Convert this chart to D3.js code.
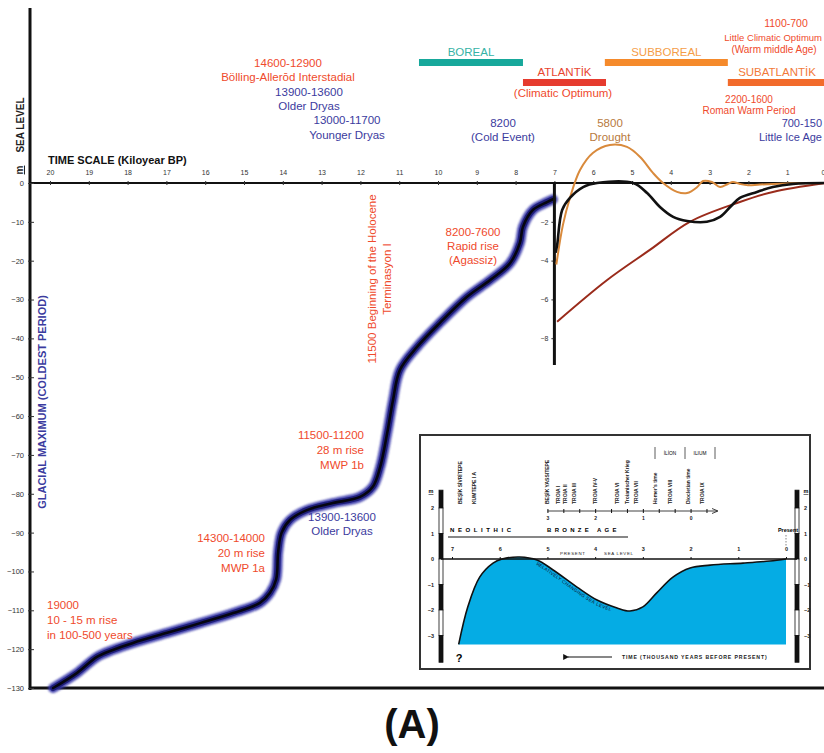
<!DOCTYPE html>
<html><head><meta charset="utf-8">
<script src="https://cdn.jsdelivr.net/npm/d3@7"></script>
<style>
body{margin:0;background:#fff}
svg{display:block;font-family:"Liberation Sans",Arial,sans-serif}
</style></head><body>
<svg id="chart" width="824" height="753"></svg>
<script>
// ---- Data -------------------------------------------------------------
// Post-glacial sea-level rise: time (kyr BP) and level (m)
const riseTime  = [19.92,19.30,18.79,18.38,17.86,16.98,16.13,15.28,14.59,14.33,14.17,14.12,14.03,13.81,13.38,12.71,12.01,11.68,11.49,11.31,11.16,10.98,10.54,9.95,9.25,8.66,8.14,7.89,7.81,7.55,7.19,7.04];
const riseLevel = [-130,-126.1,-122.0,-120.2,-118.4,-115.8,-113.3,-110.7,-108.1,-105.5,-102,-95,-90,-86.7,-84.2,-82.4,-80.8,-78.2,-73.1,-64.4,-55.9,-48.1,-42.2,-36.0,-29.3,-25.0,-20.6,-15.4,-11.3,-6.9,-4.9,-4.2];

// Holocene detail (last 7 kyr), three reconstructions
const holoBlackTime  = [6.97,6.93,6.80,6.60,6.26,5.90,4.97,4.61,4.28,3.94,3.58,3.07,2.73,2.47,2.22,1.78,1.37,0.85,0];
const holoBlackLevel = [-3.6,-3.2,-1.39,-0.77,-0.21,0,0,-0.52,-1.24,-1.75,-1.96,-2.0,-1.75,-1.24,-0.77,-0.46,-0.21,-0.05,0];
const holoOrangeTime  = [6.95,6.78,6.60,6.34,6.01,5.57,5.13,4.79,4.46,4.20,3.84,3.58,3.32,3.17,2.94,2.73,2.53,2.40,2.22,2.01,1.70,1.0,0];
const holoOrangeLevel = [-4.2,-2.16,-0.77,0.67,1.55,1.96,1.86,1.34,0.52,0,-0.46,-0.52,-0.21,0.1,0.05,-0.21,-0.05,0.05,-0.05,-0.12,-0.08,-0.03,0];
const holoRedTime  = [6.93,5.64,4.54,3.51,2.22,1.37,0];
const holoRedLevel = [-7.15,-5.0,-3.45,-2.0,-0.98,-0.46,0];

// Aegean (Troad) relative sea level, 7 kyr BP to present
const aegeanTime  = [6.86,6.67,6.42,6.14,5.95,5.58,5.22,4.88,4.38,3.96,3.54,3.27,3.00,2.71,2.37,2.01,1.59,0.90,0.34,0];
const aegeanLevel = [-3.35,-1.88,-0.71,-0.16,0,0.08,-0.04,-0.43,-1.10,-1.61,-1.92,-2.04,-1.88,-1.33,-0.71,-0.35,-0.24,-0.16,-0.08,0];

// Climatic periods (kyr BP)
const periodNames = ["BOREAL","ATLANTİK","SUBBOREAL","SUBATLANTİK"];
const periodStart = [10.49,7.81,5.70,2.53];
const periodEnd   = [7.81,5.67,2.53,0];

// Tick labels
const timeTicks  = d3.range(20,-1,-1);
const depthTicks = d3.range(0,-131,-10);
const holoTicks  = [-2,-4,-6,-8];
const insetTimeTicks  = [7,6,5,4,3,2,1,0];
const insetLevelTicks = [2,1,0,-1,-2,-3];

// Settlement phases shown above the inset
const sites = ["BEŞİK SİVRİTEPE","KUMTEPE I A","BEŞİK YASSITEPE","TROIA I","TROIA II","TROIA III","TROIA IV-V","TROIA VI","Troianischer Krieg","TROIA VII","Homer's time","TROIA VIII","Diocletian time","TROIA IX"];

// ---- Drawing ------------------------------------------------------------
const svg = d3.select("#chart");
const RED = "#ef4a2c", BLUE = "#3b3b9e";
const intFmt = d3.format("d");

const x = d3.scaleLinear().domain([20,0]).range([50,826]);
const y = d3.scaleLinear().domain([0,-130]).range([183,688]);
const ySub = d3.scaleLinear().domain([0,-8]).range([183,338.2]);
const xi = d3.scaleLinear().domain([7,0]).range([452,786]);
const yi = d3.scaleLinear().domain([0,-3]).range([559,635.5]);

const defs = svg.append("defs");
defs.append("filter").attr("id","soft").attr("x","-5%").attr("y","-5%").attr("width","110%").attr("height","110%")
  .append("feGaussianBlur").attr("stdDeviation",1.3);
defs.append("marker").attr("id","arrowL").attr("viewBox","0 0 10 10").attr("refX",2).attr("refY",5)
  .attr("markerWidth",5).attr("markerHeight",5).attr("orient","auto")
  .append("path").attr("d","M10,0 L0,5 L10,10 z").attr("fill","#111");

// frame lines
svg.append("line").attr("x1",30).attr("x2",30).attr("y1",8).attr("y2",690).attr("stroke","#111").attr("stroke-width",3);
svg.append("line").attr("x1",30).attr("x2",824).attr("y1",688).attr("y2",688).attr("stroke","#111").attr("stroke-width",3);
svg.append("line").attr("x1",30).attr("x2",824).attr("y1",y(0)).attr("y2",y(0)).attr("stroke","#111").attr("stroke-width",2);

// time axis
const gx = svg.append("g").attr("transform",`translate(0,${y(0)})`)
  .call(d3.axisTop(x).tickValues(timeTicks).tickSize(3).tickPadding(5).tickFormat(intFmt));
gx.select(".domain").remove();
gx.selectAll("line").attr("y1",2).attr("y2",-2).attr("stroke","#333");
gx.selectAll("text").attr("font-size",7).attr("fill","#333").attr("font-family","Liberation Sans, Arial");
gx.selectAll(".tick").filter(d=>d===0).select("text").attr("text-anchor","end").attr("x",-1);

// depth axis
const gy = svg.append("g").attr("transform","translate(31,0)")
  .call(d3.axisLeft(y).tickValues(depthTicks).tickSize(3).tickPadding(4).tickFormat(intFmt));
gy.select(".domain").remove();
gy.selectAll("line").attr("x1",-3).attr("x2",3).attr("stroke","#333");
gy.selectAll("text").attr("font-size",7.5).attr("fill","#333").attr("font-family","Liberation Sans, Arial");

svg.append("text").attr("x",48).attr("y",164).attr("font-size",11).attr("font-weight","bold").attr("fill","#111")
  .text("TIME SCALE (Kiloyear BP)");
svg.append("text").attr("transform","translate(24,125) rotate(-90)").attr("text-anchor","middle")
  .attr("font-size",10).attr("font-weight","bold").attr("fill","#222").text("SEA LEVEL");
svg.append("text").attr("transform","translate(23,170) rotate(-90)").attr("text-anchor","middle")
  .attr("font-size",10).attr("font-weight","bold").attr("fill","#222").attr("text-decoration","underline").text("m");
svg.append("text").attr("transform","translate(46,402) rotate(-90)").attr("text-anchor","middle")
  .attr("font-size",11).attr("font-weight","bold").attr("fill",BLUE).text("GLACIAL MAXIMUM (COLDEST PERIOD)");

// main sea-level curve
const risePts = riseTime.map((t,i)=>[t,riseLevel[i]]);
const riseLine = d3.line().x(d=>x(d[0])).y(d=>y(d[1])).curve(d3.curveCatmullRom.alpha(0.5));
svg.append("path").attr("d",riseLine(risePts)).attr("fill","none").attr("stroke","#3535a8")
  .attr("stroke-width",10).attr("stroke-linecap","round").attr("filter","url(#soft)").attr("opacity",0.9);
svg.append("path").attr("d",riseLine(risePts)).attr("fill","none").attr("stroke","#1e1e78")
  .attr("stroke-width",6).attr("stroke-linecap","round");
svg.append("path").attr("d",riseLine(risePts)).attr("fill","none").attr("stroke","#050510")
  .attr("stroke-width",2.6).attr("stroke-linecap","round");

// Holocene detail axis
svg.append("line").attr("x1",x(7)).attr("x2",x(7)).attr("y1",y(0)-1).attr("y2",365).attr("stroke","#111").attr("stroke-width",3);
const gs = svg.append("g").attr("transform",`translate(${x(7)-1},0)`)
  .call(d3.axisLeft(ySub).tickValues(holoTicks).tickSize(2).tickPadding(3).tickFormat(intFmt));
gs.select(".domain").remove();
gs.selectAll("line").attr("stroke","#333");
gs.selectAll("text").attr("font-size",7).attr("fill","#333").attr("font-family","Liberation Sans, Arial");

const holoLine = d3.line().x(d=>x(d[0])).y(d=>ySub(d[1])).curve(d3.curveCatmullRom.alpha(0.5));
svg.append("path").attr("d",holoLine(holoRedTime.map((t,i)=>[t,holoRedLevel[i]])))
  .attr("fill","none").attr("stroke","#9a2b1b").attr("stroke-width",2);
svg.append("path").attr("d",holoLine(holoOrangeTime.map((t,i)=>[t,holoOrangeLevel[i]])))
  .attr("fill","none").attr("stroke","#d98a3c").attr("stroke-width",2);
svg.append("path").attr("d",holoLine(holoBlackTime.map((t,i)=>[t,holoBlackLevel[i]])))
  .attr("fill","none").attr("stroke","#111").attr("stroke-width",2.6);

// climatic period bars
const periodRow = [0,1,0,1];
const periodFill = ["#17a89b","#e63b2e","#f58a2b","#f26b2b"];
const periodText = ["#35b3a6","#e8452f","#f59d48","#f27a3a"];
periodNames.forEach((nm,i)=>{
  const y0 = periodRow[i] ? 79 : 59;
  svg.append("rect").attr("x",x(periodStart[i])).attr("y",y0)
    .attr("width",x(periodEnd[i])-x(periodStart[i])).attr("height",7).attr("fill",periodFill[i]);
  const cx = i===3 ? 777 : (x(periodStart[i])+x(periodEnd[i]))/2;
  svg.append("text").attr("x",cx).attr("y",y0-3).attr("text-anchor","middle")
    .attr("font-size",11.5).attr("fill",periodText[i]).text(nm);
});

// annotations
function note(px,py,lines,color,size,anchor,lh){
  const t = svg.append("text").attr("x",px).attr("y",py).attr("font-size",size)
    .attr("fill",color).attr("text-anchor",anchor||"middle");
  lines.forEach((s,i)=>t.append("tspan").attr("x",px).attr("dy",i?(lh||size*1.25):0).text(s));
  return t;
}
note(288,67,["14600-12900","Bölling-Allerōd Interstadial"],RED,11.5,"middle",14);
note(309,96,["13900-13600","Older Dryas"],BLUE,11.5,"middle",14);
note(347,124,["13000-11700","Younger Dryas"],BLUE,11.5,"middle",14.5);
note(563,97,["(Climatic Optimum)"],RED,11.5,"middle");
note(786,27,["1100-700"],RED,10.5,"middle");
note(822,41,["Little  Climatic Optimum"],RED,9.5,"end");
note(774,53,["(Warm middle Age)"],RED,10,"middle");
note(749,103,["2200-1600","Roman Warm Period"],RED,10,"middle",11);
note(503,127,["8200","(Cold Event)"],BLUE,11.5,"middle",14);
note(610,127,["5800","Drought"],"#b87a40",11.5,"middle",14);
note(822,127,["700-150"],BLUE,11,"end");
note(822,141,["Little  Ice Age"],BLUE,11,"end");
note(473,236,["8200-7600","Rapid rise","(Agassiz)"],RED,11.5,"middle",14);
note(364,439,["11500-11200","28 m rise","MWP 1b"],RED,11.5,"end",15);
note(342,521,["13900-13600","Older Dryas"],BLUE,11.5,"middle",14);
note(265,542,["14300-14000","20 m rise","MWP 1a"],RED,11.5,"end",15);
note(47,609,["19000","10 - 15 m rise","in 100-500 years"],RED,11.5,"start",15);
svg.append("text").attr("transform","translate(376,279) rotate(-90)").attr("text-anchor","middle")
  .attr("font-size",11.5).attr("fill",RED)
  .call(t=>{
    t.append("tspan").attr("x",0).attr("dy",0).text("11500 Beginning of the Holocene");
    t.append("tspan").attr("x",0).attr("dy",15).text("Terminasyon I");
  });

svg.append("text").attr("x",412).attr("y",738).attr("text-anchor","middle")
  .attr("font-size",40).attr("font-weight","bold").attr("fill","#111").text("(A)");

// ---- Aegean inset -------------------------------------------------------
const inset = svg.append("g");
inset.append("rect").attr("x",420).attr("y",435).attr("width",390).attr("height",234)
  .attr("fill","#fff").attr("stroke","#333").attr("stroke-width",2);

// graduated bars at both sides
const barSegs = [[2.7,2,1],[2,1,0],[1,0,1],[0,-1,0],[-1,-2,1],[-2,-3,0],[-3,-4.05,1]];
[439,795].forEach(bx=>{
  barSegs.forEach(s=>{
    inset.append("rect").attr("x",bx).attr("y",yi(s[0])).attr("width",4).attr("height",yi(s[1])-yi(s[0]))
      .attr("fill",s[2]?"#111":"#fff").attr("stroke","#111").attr("stroke-width",0.8);
  });
});
const gil = inset.append("g").attr("transform","translate(437,0)")
  .call(d3.axisLeft(yi).tickValues(insetLevelTicks).tickSize(0).tickPadding(3).tickFormat(intFmt));
gil.select(".domain").remove();
gil.selectAll("text").attr("font-size",5.5).attr("font-weight","bold").attr("fill","#222");
const gir = inset.append("g").attr("transform","translate(801,0)")
  .call(d3.axisRight(yi).tickValues(insetLevelTicks).tickSize(0).tickPadding(3).tickFormat(intFmt));
gir.select(".domain").remove();
gir.selectAll("text").attr("font-size",5.5).attr("font-weight","bold").attr("fill","#222");
inset.append("text").attr("x",431).attr("y",493).attr("font-size",5.5).attr("font-weight","bold").attr("text-anchor","middle").attr("text-decoration","underline").text("m");
inset.append("text").attr("x",806).attr("y",493).attr("font-size",5.5).attr("font-weight","bold").attr("text-anchor","middle").attr("text-decoration","underline").text("m");

// blue area
const aegeanPts = aegeanTime.map((t,i)=>[t,aegeanLevel[i]]);
const cr = d3.curveCatmullRom.alpha(0.5);
inset.append("path").attr("d",d3.area().x(d=>xi(d[0])).y0(yi(-3.35)).y1(d=>yi(d[1])).curve(cr)(aegeanPts))
  .attr("fill","#05ace4");
inset.append("path").attr("id","aegeanCurve").attr("d",d3.line().x(d=>xi(d[0])).y(d=>yi(d[1])).curve(cr)(aegeanPts))
  .attr("fill","none").attr("stroke","#111").attr("stroke-width",1.6);
inset.append("text").attr("font-size",4.6).attr("fill","#113").attr("dy",5).attr("letter-spacing",0.3)
  .append("textPath").attr("href","#aegeanCurve").attr("startOffset","33%").text("RELATIVELY CHANGING SEA LEVEL");

// inset time axis
inset.append("line").attr("x1",441).attr("x2",797).attr("y1",yi(0)).attr("y2",yi(0)).attr("stroke","#111").attr("stroke-width",1.5);
const git = inset.append("g").attr("transform",`translate(0,${yi(0)})`)
  .call(d3.axisTop(xi).tickValues(insetTimeTicks).tickSize(2).tickPadding(6).tickFormat(intFmt));
git.select(".domain").remove();
git.selectAll("line").attr("stroke","#111");
git.selectAll("text").attr("font-size",5.5).attr("font-weight","bold").attr("fill","#222");
inset.append("text").attr("x",560).attr("y",555).attr("font-size",4.4).attr("letter-spacing",0.7).attr("fill","#222").text("PRESENT");
inset.append("text").attr("x",604).attr("y",555).attr("font-size",4.4).attr("letter-spacing",0.7).attr("fill","#222").text("SEA   LEVEL");

// cultural periods
inset.append("text").attr("x",450).attr("y",532).attr("font-size",6).attr("font-weight","bold").attr("letter-spacing",3.6).text("NEOLITHIC");
inset.append("text").attr("x",547).attr("y",532).attr("font-size",6).attr("font-weight","bold").attr("letter-spacing",3.3).text("BRONZE  AGE");
inset.append("line").attr("x1",448).attr("x2",628).attr("y1",537).attr("y2",537).attr("stroke","#111").attr("stroke-width",1.2);
inset.append("text").attr("x",788).attr("y",532).attr("font-size",5.5).attr("font-weight","bold").attr("text-anchor","middle").text("Present");
inset.append("line").attr("x1",786).attr("x2",786).attr("y1",535).attr("y2",546).attr("stroke","#333").attr("stroke-width",0.6).attr("stroke-dasharray","1.5,1.5");

// settlement labels
const siteX = [460,474,547,558,565,574,595,617,627,636,655,670,688,702];
sites.forEach((s,i)=>{
  inset.append("text").attr("transform",`translate(${siteX[i]+2},504) rotate(-90)`)
    .attr("font-size",5).attr("font-weight","bold").attr("fill","#222").text(s);
});
// BC/AD scale under the settlements
const bcScale = d3.scaleLinear().domain([3,0]).range([xi(5),xi(2)]);
inset.append("line").attr("x1",bcScale(3)).attr("x2",717).attr("y1",511).attr("y2",511).attr("stroke","#111").attr("stroke-width",0.8);
inset.append("path").attr("d","M712,508.5 L718,511 L712,513.5").attr("fill","none").attr("stroke","#111").attr("stroke-width",0.8);
const gbc = inset.append("g").attr("transform","translate(0,511)")
  .call(d3.axisBottom(bcScale).tickValues(d3.range(3,-0.6,-1/3)).tickSize(2).tickPadding(3)
    .tickFormat(d=>Math.abs(d-Math.round(d))<1e-6?intFmt(Math.round(d)):""));
gbc.select(".domain").remove();
gbc.selectAll("line").attr("y1",-2).attr("y2",2).attr("stroke","#111");
gbc.selectAll("text").attr("font-size",5).attr("font-weight","bold").attr("fill","#222");
[655,685,715].forEach(bx=>inset.append("line").attr("x1",bx).attr("x2",bx).attr("y1",447).attr("y2",459).attr("stroke","#333").attr("stroke-width",0.8));
inset.append("text").attr("x",670).attr("y",455).attr("font-size",4.8).attr("text-anchor","middle").text("İLİON");
inset.append("text").attr("x",700).attr("y",455).attr("font-size",4.8).attr("text-anchor","middle").text("ILIUM");

// bottom captions
inset.append("text").attr("x",459).attr("y",662).attr("font-size",11).attr("font-weight","bold").attr("text-anchor","middle").text("?");
inset.append("line").attr("x1",612).attr("x2",568).attr("y1",657).attr("y2",657).attr("stroke","#111").attr("stroke-width",1.2).attr("marker-end","url(#arrowL)");
inset.append("text").attr("x",622).attr("y",659).attr("font-size",5.2).attr("font-weight","bold").attr("letter-spacing",0.85).attr("fill","#222").text("TIME   (THOUSAND YEARS BEFORE PRESENT)");
</script>
</body></html>
